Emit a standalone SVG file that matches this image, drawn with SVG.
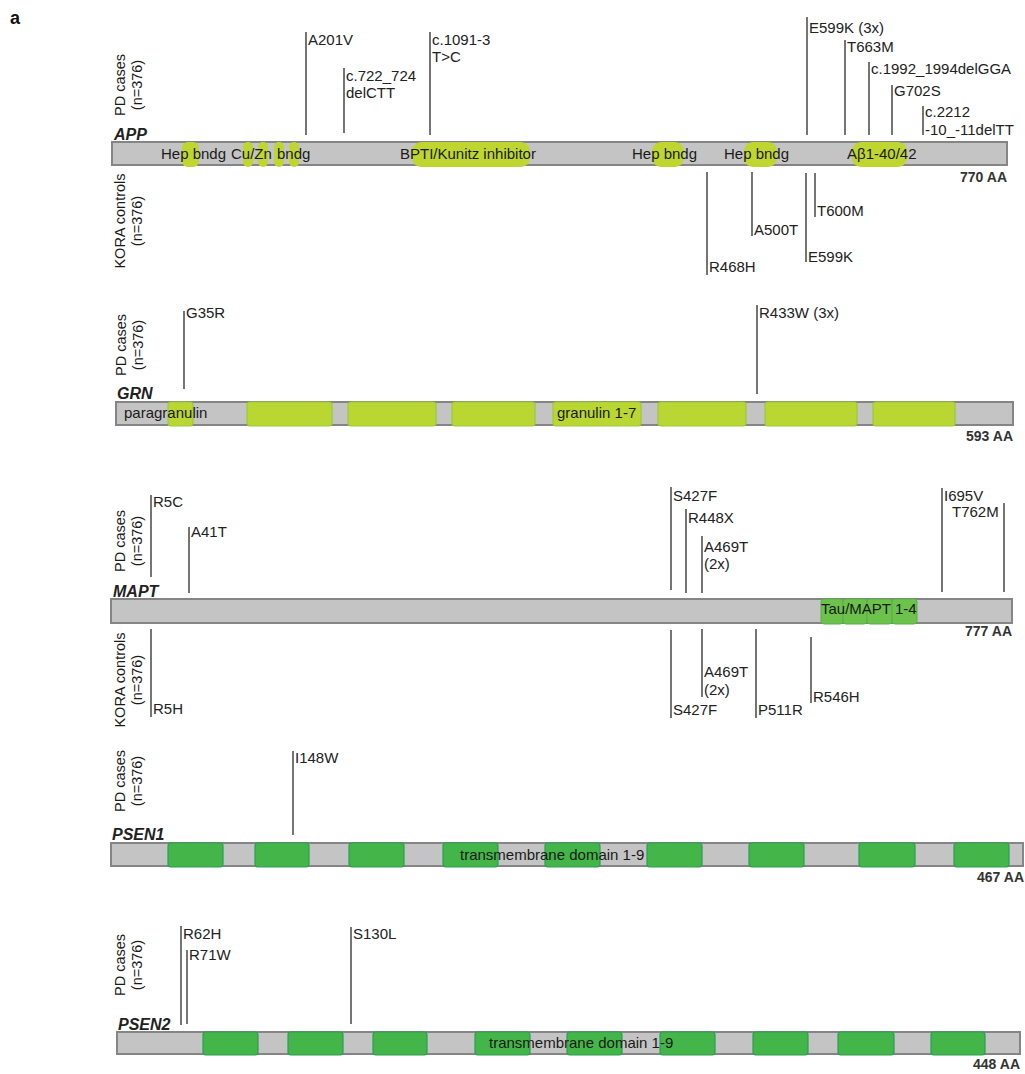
<svg xmlns="http://www.w3.org/2000/svg" width="1025" height="1074" viewBox="0 0 1025 1074">
<style>
text{font-family:"Liberation Sans",Arial,sans-serif;fill:#222}
.lab{font-size:15px}
.dom{font-size:15px;fill:#1a1a1a}
.side{font-size:14.5px;fill:#1a1a1a}
.gene{font-size:16px;font-style:italic;font-weight:bold;fill:#222}
.aa{font-size:14px;font-weight:bold;fill:#333;text-anchor:end}
.bar{fill:#c4c4c4;stroke:#858585;stroke-width:2}
.yg{fill:#bed62f;stroke:none}
.gg{fill:#bad632;stroke:#9cc93c;stroke-width:1.2}
.tau{fill:#6cc24a;stroke:#58b04a;stroke-width:1}
.tm{fill:#44b649;stroke:#2a9e52;stroke-width:1.2}
.mut line{stroke:#2a2a2a;stroke-width:1.3}
</style>

<text x="10" y="24" style="font-size:18px;font-weight:bold;fill:#111">a</text>

<g id="APP">
  <text class="side" transform="translate(125,85) rotate(-90)" text-anchor="middle"><tspan x="0" y="0">PD cases</tspan><tspan x="0" y="17">(n=376)</tspan></text>
  <text class="side" transform="translate(125,221) rotate(-90)" text-anchor="middle"><tspan x="0" y="0">KORA controls</tspan><tspan x="0" y="17">(n=376)</tspan></text>
  <text class="gene" x="114" y="140">APP</text>
  <rect class="bar" x="112" y="142" width="895" height="23"/>
  <rect class="yg" x="182" y="142" width="17" height="25" rx="6"/>
  <rect class="yg" x="243" y="142" width="10" height="25" rx="5"/>
  <rect class="yg" x="258" y="142" width="10" height="25" rx="5"/>
  <rect class="yg" x="274" y="142" width="10" height="25" rx="5"/>
  <rect class="yg" x="289" y="142" width="10" height="25" rx="5"/>
  <rect class="yg" x="412" y="142" width="118" height="25" rx="9"/>
  <rect class="yg" x="652" y="142" width="32" height="25" rx="9"/>
  <rect class="yg" x="744" y="142" width="33" height="25" rx="9"/>
  <rect class="yg" x="852" y="142" width="55" height="25" rx="9"/>
  <text class="dom" x="161" y="159">Hep bndg</text>
  <text class="dom" x="231" y="159">Cu/Zn</text>
  <text class="dom" x="277" y="159">bndg</text>
  <text class="dom" x="400" y="159">BPTI/Kunitz inhibitor</text>
  <text class="dom" x="632" y="159">Hep bndg</text>
  <text class="dom" x="724" y="159">Hep bndg</text>
  <text class="dom" x="847" y="159">Aβ1-40/42</text>
  <text class="aa" x="1007" y="182">770 AA</text>
  <text class="lab" x="308" y="45">A201V</text>
  <text class="lab" x="346" y="81">c.722_724</text>
  <text class="lab" x="346" y="98">delCTT</text>
  <text class="lab" x="432" y="45">c.1091-3</text>
  <text class="lab" x="432" y="62">T&gt;C</text>
  <text class="lab" x="809" y="33">E599K (3x)</text>
  <text class="lab" x="847" y="52">T663M</text>
  <text class="lab" x="871" y="74">c.1992_1994delGGA</text>
  <text class="lab" x="894" y="96">G702S</text>
  <text class="lab" x="925" y="117">c.2212</text>
  <text class="lab" x="925" y="135">-10_-11delTT</text>
  <text class="lab" x="709" y="272">R468H</text>
  <text class="lab" x="754" y="235">A500T</text>
  <text class="lab" x="808" y="262">E599K</text>
  <text class="lab" x="817" y="216">T600M</text>
</g>

<g id="GRN">
  <text class="side" transform="translate(126,345) rotate(-90)" text-anchor="middle"><tspan x="0" y="0">PD cases</tspan><tspan x="0" y="17">(n=376)</tspan></text>
  <text class="gene" x="117" y="399">GRN</text>
  <rect class="bar" x="116" y="402" width="897" height="23"/>
  <rect class="gg" x="168" y="402" width="25" height="24" rx="3"/>
  <rect class="gg" x="247" y="402" width="85" height="24" rx="3"/>
  <rect class="gg" x="348" y="402" width="88" height="24" rx="3"/>
  <rect class="gg" x="452" y="402" width="83" height="24" rx="3"/>
  <rect class="gg" x="553" y="402" width="88" height="24" rx="3"/>
  <rect class="gg" x="658" y="402" width="88" height="24" rx="3"/>
  <rect class="gg" x="765" y="402" width="92" height="24" rx="3"/>
  <rect class="gg" x="873" y="402" width="82" height="24" rx="3"/>
  <text class="dom" x="124" y="418">paragranulin</text>
  <text class="dom" x="557" y="418">granulin 1-7</text>
  <text class="aa" x="1013" y="441">593 AA</text>
  <text class="lab" x="186" y="318">G35R</text>
  <text class="lab" x="759" y="318">R433W (3x)</text>
</g>

<g id="MAPT">
  <text class="side" transform="translate(125,541) rotate(-90)" text-anchor="middle"><tspan x="0" y="0">PD cases</tspan><tspan x="0" y="17">(n=376)</tspan></text>
  <text class="side" transform="translate(125,680) rotate(-90)" text-anchor="middle"><tspan x="0" y="0">KORA controls</tspan><tspan x="0" y="17">(n=376)</tspan></text>
  <text class="gene" x="113" y="597">MAPT</text>
  <rect class="bar" x="111" y="599" width="901" height="24"/>
  <rect class="tau" x="821" y="599" width="22" height="25" rx="3"/>
  <rect class="tau" x="843" y="599" width="24" height="25" rx="3"/>
  <rect class="tau" x="867" y="599" width="25" height="25" rx="3"/>
  <rect class="tau" x="892" y="599" width="25" height="25" rx="3"/>
  <text class="dom" x="821" y="614">Tau/MAPT 1-4</text>
  <text class="aa" x="1012" y="636">777 AA</text>
  <text class="lab" x="153" y="507">R5C</text>
  <text class="lab" x="191" y="537">A41T</text>
  <text class="lab" x="673" y="501">S427F</text>
  <text class="lab" x="688" y="523">R448X</text>
  <text class="lab" x="704" y="552">A469T</text>
  <text class="lab" x="704" y="569">(2x)</text>
  <text class="lab" x="944" y="501">I695V</text>
  <text class="lab" x="952" y="517">T762M</text>
  <text class="lab" x="153" y="714">R5H</text>
  <text class="lab" x="673" y="715">S427F</text>
  <text class="lab" x="704" y="677">A469T</text>
  <text class="lab" x="704" y="695">(2x)</text>
  <text class="lab" x="758" y="715">P511R</text>
  <text class="lab" x="813" y="702">R546H</text>
</g>

<g id="PSEN1">
  <text class="side" transform="translate(125,781) rotate(-90)" text-anchor="middle"><tspan x="0" y="0">PD cases</tspan><tspan x="0" y="17">(n=376)</tspan></text>
  <text class="gene" x="112" y="840">PSEN1</text>
  <rect class="bar" x="111" y="843" width="912" height="23"/>
  <rect class="tm" x="168" y="843" width="55" height="24" rx="3"/>
  <rect class="tm" x="255" y="843" width="54" height="24" rx="3"/>
  <rect class="tm" x="349" y="843" width="55" height="24" rx="3"/>
  <rect class="tm" x="443" y="843" width="55" height="24" rx="3"/>
  <rect class="tm" x="545" y="843" width="55" height="24" rx="3"/>
  <rect class="tm" x="647" y="843" width="55" height="24" rx="3"/>
  <rect class="tm" x="749" y="843" width="55" height="24" rx="3"/>
  <rect class="tm" x="859" y="843" width="56" height="24" rx="3"/>
  <rect class="tm" x="954" y="843" width="55" height="24" rx="3"/>
  <text class="dom" x="460" y="860">transmembrane domain 1-9</text>
  <text class="aa" x="1024" y="882">467 AA</text>
  <text class="lab" x="295" y="763">I148W</text>
</g>

<g id="PSEN2">
  <text class="side" transform="translate(125,965) rotate(-90)" text-anchor="middle"><tspan x="0" y="0">PD cases</tspan><tspan x="0" y="17">(n=376)</tspan></text>
  <text class="gene" x="118" y="1030">PSEN2</text>
  <rect class="bar" x="117" y="1032" width="903" height="22"/>
  <rect class="tm" x="203" y="1032" width="55" height="23" rx="3"/>
  <rect class="tm" x="288" y="1032" width="55" height="23" rx="3"/>
  <rect class="tm" x="373" y="1032" width="54" height="23" rx="3"/>
  <rect class="tm" x="475" y="1032" width="55" height="23" rx="3"/>
  <rect class="tm" x="567" y="1032" width="55" height="23" rx="3"/>
  <rect class="tm" x="660" y="1032" width="55" height="23" rx="3"/>
  <rect class="tm" x="753" y="1032" width="55" height="23" rx="3"/>
  <rect class="tm" x="838" y="1032" width="56" height="23" rx="3"/>
  <rect class="tm" x="931" y="1032" width="54" height="23" rx="3"/>
  <text class="dom" x="489" y="1048">transmembrane domain 1-9</text>
  <text class="aa" x="1020" y="1069">448 AA</text>
  <text class="lab" x="183" y="939">R62H</text>
  <text class="lab" x="189" y="960">R71W</text>
  <text class="lab" x="353" y="939">S130L</text>
</g>

<g id="connectors" class="mut">
  <line x1="306" y1="32" x2="306" y2="135"/>
  <line x1="344" y1="68" x2="344" y2="133"/>
  <line x1="430" y1="32" x2="430" y2="135"/>
  <line x1="807" y1="17" x2="807" y2="135"/>
  <line x1="845" y1="40" x2="845" y2="135"/>
  <line x1="869" y1="62" x2="869" y2="135"/>
  <line x1="892" y1="85" x2="892" y2="135"/>
  <line x1="923" y1="106" x2="923" y2="135"/>
  <line x1="707" y1="172" x2="707" y2="275"/>
  <line x1="752" y1="172" x2="752" y2="236"/>
  <line x1="806" y1="173" x2="806" y2="262"/>
  <line x1="815" y1="173" x2="815" y2="217"/>
  <line x1="184" y1="311" x2="184" y2="389"/>
  <line x1="757" y1="305" x2="757" y2="394"/>
  <line x1="151" y1="495" x2="151" y2="577"/>
  <line x1="189" y1="527" x2="189" y2="593"/>
  <line x1="671" y1="487" x2="671" y2="590"/>
  <line x1="686" y1="509" x2="686" y2="593"/>
  <line x1="702" y1="536" x2="702" y2="593"/>
  <line x1="942" y1="488" x2="942" y2="592"/>
  <line x1="1004" y1="503" x2="1004" y2="592"/>
  <line x1="151" y1="629" x2="151" y2="717"/>
  <line x1="671" y1="630" x2="671" y2="718"/>
  <line x1="702" y1="629" x2="702" y2="697"/>
  <line x1="756" y1="629" x2="756" y2="718"/>
  <line x1="811" y1="637" x2="811" y2="703"/>
  <line x1="293" y1="751" x2="293" y2="835"/>
  <line x1="181" y1="926" x2="181" y2="1025"/>
  <line x1="187" y1="950" x2="187" y2="1024"/>
  <line x1="351" y1="927" x2="351" y2="1024"/>
</g>
</svg>
